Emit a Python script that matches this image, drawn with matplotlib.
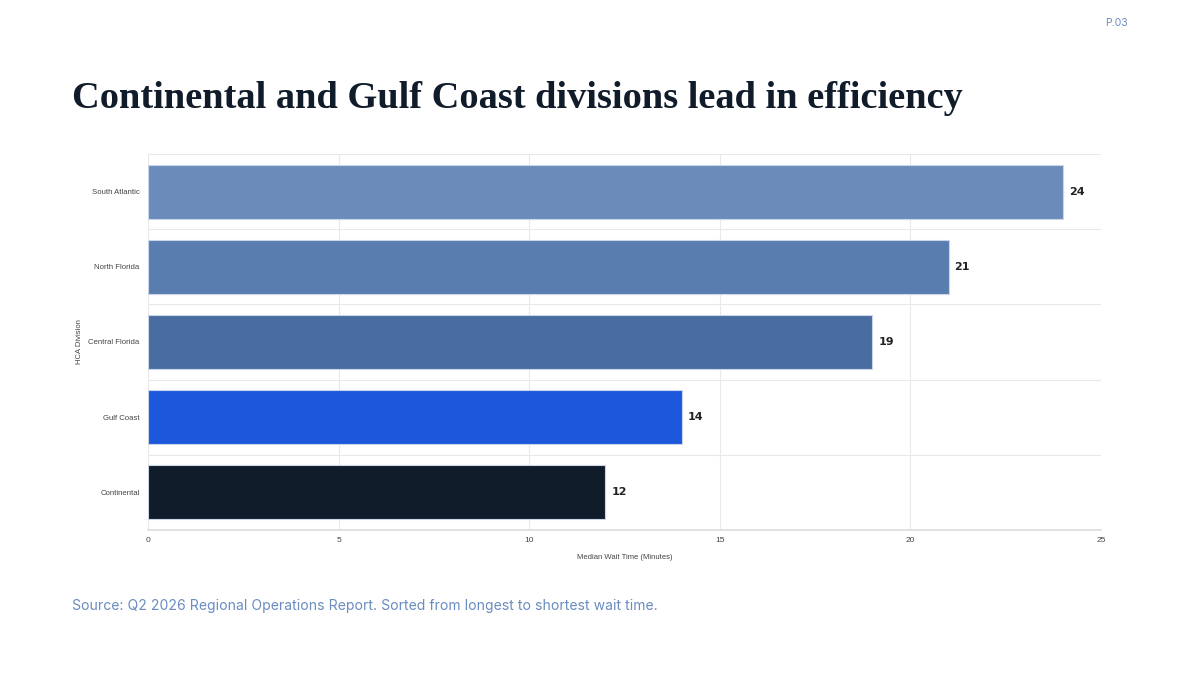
import matplotlib
matplotlib.use('Agg')
from matplotlib import pyplot as plt
import numpy as np

divisions = ['South Atlantic', 'North Florida', 'Central Florida', 'Gulf Coast', 'Continental']
wait_minutes = [24, 21, 19, 14, 12]
bar_colors = ['#6b8bba', '#5a7db0', '#4a6da1', '#1d57dc', '#111c2b']
x_ticks = [0, 5, 10, 15, 20, 25]

fig = plt.figure(figsize=(12, 6.75), dpi=100)
ax = fig.add_axes([148/1200, 1 - 530/675, (1101 - 148)/1200, (530 - 154)/675])

ypos = np.arange(len(divisions))
ax.barh(ypos, wait_minutes, height=0.72, color=bar_colors,
        edgecolor='#c9d6ea', linewidth=0.8, zorder=3)
for y, v in zip(ypos, wait_minutes):
    ax.text(v + 0.16, y, str(v), va='center', ha='left', fontsize=8,
            fontweight='bold', color='#222222', family='DejaVu Sans', zorder=4)

ax.set_ylim(len(divisions) - 0.5, -0.5)
ax.set_xlim(0, 25)
ax.set_yticks(ypos)
ax.set_yticklabels(divisions, fontsize=5.6, color='#444444', family='Liberation Sans')
ax.set_xticks(x_ticks)
ax.set_xticklabels([str(t) for t in x_ticks], fontsize=6, color='#444444', family='Liberation Sans')
ax.tick_params(axis='y', length=0, pad=6)
ax.tick_params(axis='x', length=0, pad=5)

# gridlines: vertical at ticks, horizontal between categories
for t in x_ticks:
    ax.axvline(t, color='#e9e9e9', lw=0.8, zorder=0)
for b in np.arange(-0.5, len(divisions), 1.0):
    ax.axhline(b, color='#e9e9e9', lw=0.8, zorder=0)
for s in ['top', 'right', 'left']:
    ax.spines[s].set_visible(False)
ax.spines['bottom'].set_color('#dddddd')
ax.spines['bottom'].set_linewidth(1.2)

ax.set_xlabel('Median Wait Time (Minutes)', fontsize=5.5, color='#444444',
              family='Liberation Sans', labelpad=7)
ax.set_ylabel('HCA Division', fontsize=5.5, color='#444444',
              family='Liberation Sans', labelpad=4)

fig.text(72/1200, 1 - 98/675, 'Continental and Gulf Coast divisions lead in efficiency',
         fontsize=27.6, fontweight='bold', color='#111c2b', family='Liberation Serif',
         va='center', ha='left')
fig.text(72/1200, 1 - 606/675,
         'Source: Q2 2026 Regional Operations Report. Sorted from longest to shortest wait time.',
         fontsize=10.1, color='#6a8cc0', family='Inter', va='center', ha='left')
fig.text(1128/1200, 1 - 23/675, 'P.03', fontsize=7.5, color='#6a8cc0',
         family='Inter', va='center', ha='right')

fig.savefig('out.png', dpi=100, facecolor='white')
